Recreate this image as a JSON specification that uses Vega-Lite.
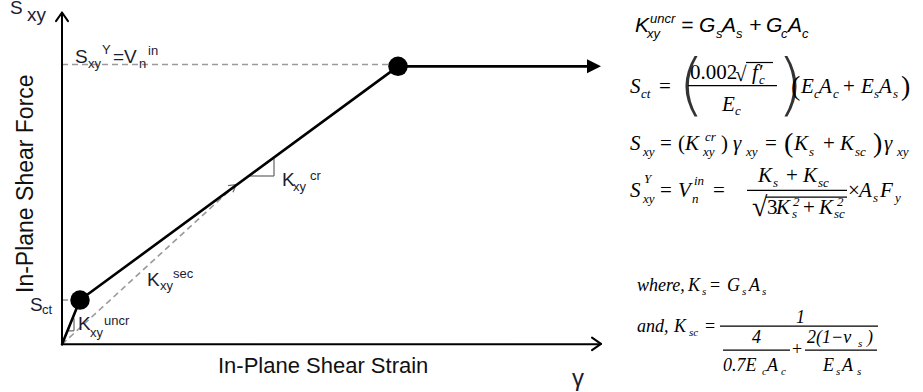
{
 "$schema": "https://vega.github.io/schema/vega-lite/v6.json",
 "width": 923, "height": 392,
 "autosize": {"type": "fit", "contains": "padding"},
 "padding": 0,
 "background": "white",
 "config": {"view": {"stroke": null}},
 "datasets": {
  "axes": [
   {"x": 62, "y": 358, "x2": 62, "y2": 14},
   {"x": 62, "y": 358, "x2": 600, "y2": 358},
   {"x": 56, "y": 22, "x2": 62, "y2": 13},
   {"x": 68, "y": 22, "x2": 62, "y2": 13},
   {"x": 592, "y": 351, "x2": 601, "y2": 357.5},
   {"x": 592, "y": 364, "x2": 601, "y2": 357.5}
  ],
  "curve": [
   {"x": 62, "y": 358, "x2": 80, "y2": 312},
   {"x": 80, "y": 312, "x2": 398, "y2": 69},
   {"x": 398, "y": 69, "x2": 590, "y2": 69}
  ],
  "tip": [{"x": 594, "y": 69}],
  "knots": [{"x": 80, "y": 312}, {"x": 398, "y": 69}],
  "dashed": [
   {"x": 62, "y": 67, "x2": 392, "y2": 67},
   {"x": 62, "y": 312, "x2": 72, "y2": 312},
   {"x": 62, "y": 358, "x2": 236, "y2": 192}
  ],
  "grayThin": [
   {"x": 250, "y": 183, "x2": 274, "y2": 183},
   {"x": 274, "y": 183, "x2": 274, "y2": 165},
   {"x": 74, "y": 331, "x2": 74, "y2": 344},
   {"x": 68, "y": 344, "x2": 74, "y2": 344},
   {"x": 236, "y": 192, "x2": 228, "y2": 193},
   {"x": 236, "y": 192, "x2": 233, "y2": 200}
  ],
  "labelMain": [
   {"x": 75, "y": 65, "t": "S"},
   {"x": 113, "y": 65, "t": " =V"},
   {"x": 30, "y": 323, "t": "S"},
   {"x": 147, "y": 297, "t": "K"},
   {"x": 78, "y": 343, "t": "K"},
   {"x": 282, "y": 193, "t": "K"},
   {"x": 10, "y": 15, "t": "S"},
   {"x": 27, "y": 22, "t": "xy"}
  ],
  "labelSub": [
   {"x": 88, "y": 71, "t": "xy"},
   {"x": 102, "y": 56, "t": "Y"},
   {"x": 139, "y": 71, "t": "n"},
   {"x": 148, "y": 57, "t": "in"},
   {"x": 42, "y": 326, "t": "ct"},
   {"x": 160, "y": 302, "t": "xy"},
   {"x": 173, "y": 289, "t": "sec"},
   {"x": 90, "y": 350, "t": "xy"},
   {"x": 104, "y": 338, "t": "uncr"},
   {"x": 293, "y": 199, "t": "xy"},
   {"x": 310, "y": 187, "t": "cr"}
  ],
  "titleX": [{"x": 218, "y": 388, "t": "In-Plane Shear Strain"}],
  "titleY": [{"x": 33, "y": 191, "t": "In-Plane Shear Force"}],
  "gamma": [{"x": 572, "y": 401, "t": "γ"}],
  "eqSans": [
   {"x": 635, "y": 33, "t": "K"},
   {"x": 681, "y": 33, "t": "= G"},
   {"x": 722, "y": 33, "t": "A"},
   {"x": 749, "y": 33, "t": "+"},
   {"x": 766, "y": 33, "t": "G"},
   {"x": 788, "y": 33, "t": "A"}
  ],
  "eqSansSub": [
   {"x": 647, "y": 39, "t": "xy"},
   {"x": 650, "y": 24, "t": "uncr"},
   {"x": 716, "y": 39, "t": "s"},
   {"x": 736, "y": 39, "t": "s"},
   {"x": 781, "y": 39, "t": "c"},
   {"x": 802, "y": 39, "t": "c"}
  ],
  "eqIt": [
   {"x": 630, "y": 97, "t": "S"},
   {"x": 752, "y": 82, "t": "f′"},
   {"x": 722, "y": 115, "t": "E"},
   {"x": 801, "y": 97, "t": "E"},
   {"x": 819, "y": 97, "t": "A"},
   {"x": 861, "y": 97, "t": "E"},
   {"x": 879, "y": 97, "t": "A"},
   {"x": 630, "y": 156, "t": "S"},
   {"x": 685, "y": 156, "t": "K"},
   {"x": 733, "y": 156, "t": "γ"},
   {"x": 794, "y": 156, "t": "K"},
   {"x": 840, "y": 156, "t": "K"},
   {"x": 884, "y": 156, "t": "γ"},
   {"x": 630, "y": 205, "t": "S"},
   {"x": 678, "y": 205, "t": "V"},
   {"x": 758, "y": 189, "t": "K"},
   {"x": 803, "y": 189, "t": "K"},
   {"x": 776, "y": 222, "t": "K"},
   {"x": 819, "y": 222, "t": "K"},
   {"x": 859, "y": 205, "t": "A"},
   {"x": 880, "y": 205, "t": "F"}
  ],
  "eqUp": [
   {"x": 659, "y": 97, "t": "="},
   {"x": 690, "y": 82, "t": "0.002"},
   {"x": 735, "y": 84, "t": "√"},
   {"x": 843, "y": 97, "t": "+"},
   {"x": 660, "y": 156, "t": "="},
   {"x": 678, "y": 156, "t": "("},
   {"x": 721, "y": 156, "t": ")"},
   {"x": 765, "y": 156, "t": "="},
   {"x": 823, "y": 156, "t": "+"},
   {"x": 660, "y": 205, "t": "="},
   {"x": 713, "y": 205, "t": "="},
   {"x": 786, "y": 189, "t": "+"},
   {"x": 767, "y": 222, "t": "3"},
   {"x": 803, "y": 222, "t": "+"},
   {"x": 848, "y": 205, "t": "×"}
  ],
  "eqSub": [
   {"x": 641, "y": 102, "t": "ct"},
   {"x": 759, "y": 87, "t": "c"},
   {"x": 735, "y": 120, "t": "c"},
   {"x": 814, "y": 102, "t": "c"},
   {"x": 833, "y": 102, "t": "c"},
   {"x": 874, "y": 102, "t": "s"},
   {"x": 893, "y": 102, "t": "s"},
   {"x": 643, "y": 162, "t": "xy"},
   {"x": 705, "y": 147, "t": "cr"},
   {"x": 703, "y": 162, "t": "xy"},
   {"x": 746, "y": 162, "t": "xy"},
   {"x": 809, "y": 162, "t": "s"},
   {"x": 855, "y": 162, "t": "sc"},
   {"x": 897, "y": 162, "t": "xy"},
   {"x": 644, "y": 190, "t": "Y"},
   {"x": 643, "y": 211, "t": "xy"},
   {"x": 694, "y": 192, "t": "in"},
   {"x": 692, "y": 211, "t": "n"},
   {"x": 773, "y": 194, "t": "s"},
   {"x": 818, "y": 194, "t": "sc"},
   {"x": 793, "y": 214, "t": "2"},
   {"x": 792, "y": 227, "t": "s"},
   {"x": 837, "y": 214, "t": "2"},
   {"x": 834, "y": 227, "t": "sc"},
   {"x": 873, "y": 210, "t": "s"},
   {"x": 895, "y": 210, "t": "y"}
  ],
  "bigParen": [
   {"x": 678, "y": 112, "t": "("},
   {"x": 777, "y": 112, "t": ")"}
  ],
  "medParen": [
   {"x": 791, "y": 99, "t": "("},
   {"x": 901, "y": 99, "t": ")"},
   {"x": 784, "y": 158, "t": "("},
   {"x": 873, "y": 158, "t": ")"},
   {"x": 752, "y": 225, "t": "√"}
  ],
  "bars": [
   {"x": 746, "y": 65, "x2": 773, "y2": 65},
   {"x": 688, "y": 89, "x2": 777, "y2": 89},
   {"x": 747, "y": 198, "x2": 847, "y2": 198},
   {"x": 766, "y": 205, "x2": 847, "y2": 205},
   {"x": 720, "y": 339, "x2": 878, "y2": 339},
   {"x": 723, "y": 364, "x2": 790, "y2": 364},
   {"x": 805, "y": 364, "x2": 877, "y2": 364}
  ],
  "eqSm": [
   {"x": 637, "y": 303, "t": "where,"},
   {"x": 688, "y": 303, "t": "K"},
   {"x": 727, "y": 303, "t": "G"},
   {"x": 749, "y": 303, "t": "A"},
   {"x": 637, "y": 345, "t": "and,"},
   {"x": 674, "y": 345, "t": "K"},
   {"x": 796, "y": 336, "t": "1"},
   {"x": 752, "y": 357, "t": "4"},
   {"x": 723, "y": 386, "t": "0.7E"},
   {"x": 767, "y": 386, "t": "A"},
   {"x": 807, "y": 357, "t": "2(1−ν"},
   {"x": 867, "y": 357, "t": ")"},
   {"x": 823, "y": 386, "t": "E"},
   {"x": 842, "y": 386, "t": "A"}
  ],
  "eqSmUp": [
   {"x": 710, "y": 303, "t": "="},
   {"x": 705, "y": 345, "t": "="},
   {"x": 792, "y": 369, "t": "+"}
  ],
  "eqSmSub": [
   {"x": 702, "y": 307, "t": "s"},
   {"x": 742, "y": 307, "t": "s"},
   {"x": 762, "y": 307, "t": "s"},
   {"x": 689, "y": 349, "t": "sc"},
   {"x": 762, "y": 390, "t": "c"},
   {"x": 781, "y": 390, "t": "c"},
   {"x": 858, "y": 361, "t": "s"},
   {"x": 836, "y": 390, "t": "s"},
   {"x": 857, "y": 390, "t": "s"}
  ]
 },
 "encoding": {
  "x": {"field": "x", "type": "quantitative", "scale": {"domain": [0, 923], "nice": false, "zero": false}, "axis": null},
  "y": {"field": "y", "type": "quantitative", "scale": {"domain": [0, 392], "reverse": true, "nice": false, "zero": false}, "axis": null}
 },
 "layer": [
  {"data": {"name": "dashed"}, "mark": {"type": "rule", "stroke": "#9a9a9a", "strokeWidth": 1.6, "strokeDash": [6, 4]}, "encoding": {"x2": {"field": "x2"}, "y2": {"field": "y2"}}},
  {"data": {"name": "grayThin"}, "mark": {"type": "rule", "stroke": "#707070", "strokeWidth": 1.3}, "encoding": {"x2": {"field": "x2"}, "y2": {"field": "y2"}}},
  {"data": {"name": "axes"}, "mark": {"type": "rule", "stroke": "black", "strokeWidth": 2, "strokeCap": "round"}, "encoding": {"x2": {"field": "x2"}, "y2": {"field": "y2"}}},
  {"data": {"name": "curve"}, "mark": {"type": "rule", "stroke": "black", "strokeWidth": 2.6, "strokeCap": "round"}, "encoding": {"x2": {"field": "x2"}, "y2": {"field": "y2"}}},
  {"data": {"name": "tip"}, "mark": {"type": "point", "shape": "M-1,-1L1,0L-1,1Z", "filled": true, "color": "black", "opacity": 1, "size": 196}},
  {"data": {"name": "knots"}, "mark": {"type": "point", "shape": "circle", "filled": true, "color": "black", "opacity": 1, "size": 380}},
  {"data": {"name": "labelMain"}, "mark": {"type": "text", "font": "Liberation Sans", "fontSize": 19, "align": "left", "baseline": "alphabetic", "color": "#1c1c30"}, "encoding": {"text": {"field": "t"}}},
  {"data": {"name": "labelSub"}, "mark": {"type": "text", "font": "Liberation Sans", "fontSize": 13, "align": "left", "baseline": "alphabetic", "color": "#1c1c30"}, "encoding": {"text": {"field": "t"}}},
  {"data": {"name": "titleX"}, "mark": {"type": "text", "font": "Liberation Sans", "fontSize": 22, "align": "left", "baseline": "alphabetic", "color": "#111"}, "encoding": {"text": {"field": "t"}}},
  {"data": {"name": "titleY"}, "mark": {"type": "text", "font": "Liberation Sans", "fontSize": 23, "angle": 270, "align": "center", "baseline": "alphabetic", "color": "#111"}, "encoding": {"text": {"field": "t"}}},
  {"data": {"name": "gamma"}, "mark": {"type": "text", "font": "Liberation Sans", "fontSize": 24, "align": "left", "baseline": "alphabetic", "color": "#1c1c30"}, "encoding": {"text": {"field": "t"}}},
  {"data": {"name": "eqSans"}, "mark": {"type": "text", "font": "Liberation Sans", "fontStyle": "italic", "fontSize": 21, "align": "left", "baseline": "alphabetic", "color": "black"}, "encoding": {"text": {"field": "t"}}},
  {"data": {"name": "eqSansSub"}, "mark": {"type": "text", "font": "Liberation Sans", "fontStyle": "italic", "fontSize": 13, "align": "left", "baseline": "alphabetic", "color": "black"}, "encoding": {"text": {"field": "t"}}},
  {"data": {"name": "eqIt"}, "mark": {"type": "text", "font": "Liberation Serif", "fontStyle": "italic", "fontSize": 21, "align": "left", "baseline": "alphabetic", "color": "black"}, "encoding": {"text": {"field": "t"}}},
  {"data": {"name": "eqUp"}, "mark": {"type": "text", "font": "Liberation Serif", "fontSize": 21, "align": "left", "baseline": "alphabetic", "color": "black"}, "encoding": {"text": {"field": "t"}}},
  {"data": {"name": "eqSub"}, "mark": {"type": "text", "font": "Liberation Serif", "fontStyle": "italic", "fontSize": 13, "align": "left", "baseline": "alphabetic", "color": "black"}, "encoding": {"text": {"field": "t"}}},
  {"data": {"name": "bigParen"}, "mark": {"type": "text", "font": "'DejaVu Sans ExtraLight', 'DejaVu Sans'", "fontSize": 68, "fontWeight": 200, "align": "left", "baseline": "alphabetic", "color": "#333"}, "encoding": {"text": {"field": "t"}}},
  {"data": {"name": "medParen"}, "mark": {"type": "text", "font": "Liberation Serif", "fontSize": 28, "align": "left", "baseline": "alphabetic", "color": "black"}, "encoding": {"text": {"field": "t"}}},
  {"data": {"name": "bars"}, "mark": {"type": "rule", "stroke": "black", "strokeWidth": 1.2}, "encoding": {"x2": {"field": "x2"}, "y2": {"field": "y2"}}},
  {"data": {"name": "eqSm"}, "mark": {"type": "text", "font": "Liberation Serif", "fontStyle": "italic", "fontSize": 18, "align": "left", "baseline": "alphabetic", "color": "black"}, "encoding": {"text": {"field": "t"}}},
  {"data": {"name": "eqSmUp"}, "mark": {"type": "text", "font": "Liberation Serif", "fontSize": 18, "align": "left", "baseline": "alphabetic", "color": "black"}, "encoding": {"text": {"field": "t"}}},
  {"data": {"name": "eqSmSub"}, "mark": {"type": "text", "font": "Liberation Serif", "fontStyle": "italic", "fontSize": 11, "align": "left", "baseline": "alphabetic", "color": "black"}, "encoding": {"text": {"field": "t"}}}
 ]
}
